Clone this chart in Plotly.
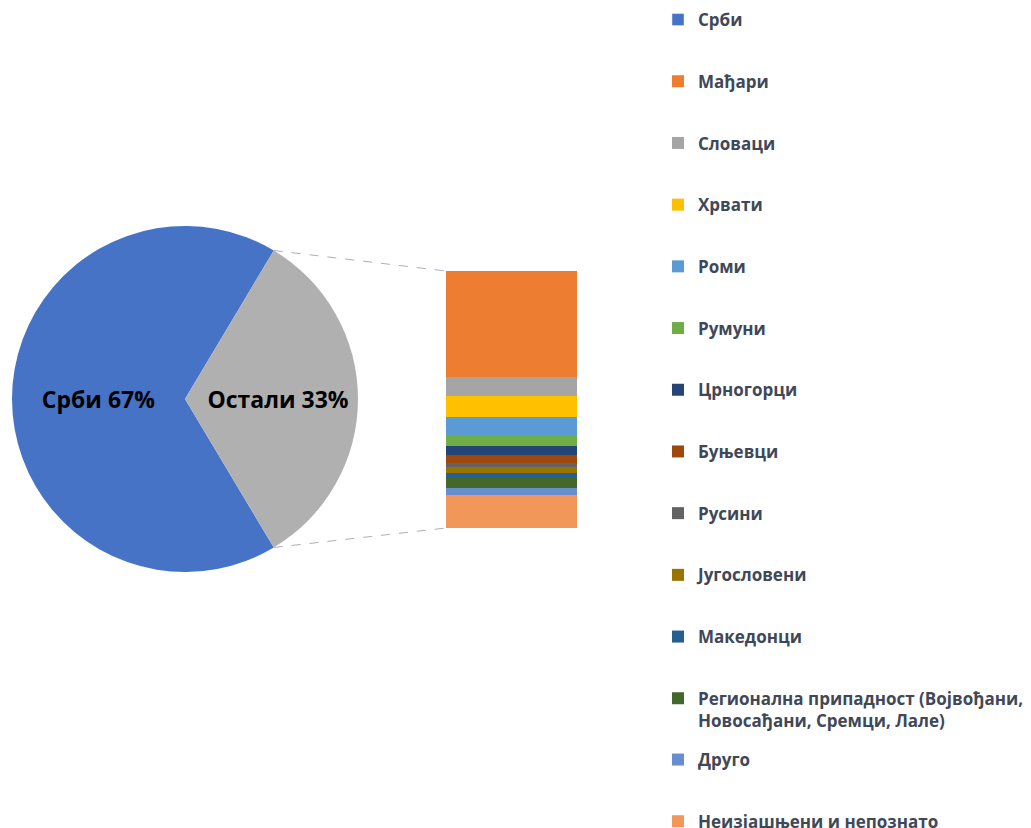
import numpy as np
import plotly.graph_objects as go

# ---------------- data ----------------
pie_labels = ["Срби", "Остали"]
groups = [
    "Мађари", "Словаци", "Хрвати", "Роми", "Румуни", "Црногорци", "Буњевци",
    "Русини", "Југословени", "Македонци",
    "Регионална припадност (Војвођани,<br>Новосађани, Сремци, Лале)",
    "Друго", "Неизјашњени и непознато",
]
group_values = [13.5, 2.45, 2.7, 2.3, 1.4, 1.15, 1.0, 0.5, 0.8, 0.5, 1.4, 0.9, 4.25]
group_colors = [
    "#ED7D31", "#A5A5A5", "#FFC000", "#5B9BD5", "#70AD47", "#264478", "#9E480E",
    "#636363", "#997300", "#255E91", "#43682B", "#698ED0", "#F1975A",
]
serbs_color = "#4673C6"
others_color = "#B0B0B0"

others_total = float(sum(group_values))
serbs_total = 100.0 - others_total
pie_values = [serbs_total, others_total]

# ---------------- layout geometry ----------------
W, H = 1031, 828
OX, OY = 8, 8                                     # page offset of the figure
pie_px = dict(x0=12, x1=358, y0=226, y1=572)      # pixel box of pie (top-down y)
bar_px = dict(x0=446, x1=577, y0=271, y1=528)     # pixel box of stacked bar

def px2paper_x(x):
    return (x - OX) / W

def px2paper_y(y):
    return 1 - (y - OY) / H

fig = go.Figure()

# pie (Остали centred at 3 o'clock)
others_frac = others_total / 100.0
rotation = 90 + others_frac * 360 / 2
fig.add_trace(go.Pie(
    labels=pie_labels,
    values=pie_values,
    sort=False,
    direction="clockwise",
    rotation=rotation,
    marker=dict(colors=[serbs_color, others_color]),
    texttemplate="%{label} %{percent:.0%}",
    textposition="inside",
    insidetextorientation="horizontal",
    textfont=dict(family="Open Sans", size=23, color="#000000", weight="bold"),
    domain=dict(x=[px2paper_x(pie_px["x0"]), px2paper_x(pie_px["x1"])],
                y=[px2paper_y(pie_px["y1"]), px2paper_y(pie_px["y0"])]),
    showlegend=False,
    hoverinfo="label+percent",
))

# legend-only entry for Срби
fig.add_trace(go.Bar(
    x=[None], y=[None], name="Срби", marker_color=serbs_color,
    legendgroup="g0", legendrank=1, showlegend=True, legend="legend",
))

# stacked bar (first trace at bottom -> add in reverse)
n_first = len(groups) - 2
for i in reversed(range(len(groups))):
    fig.add_trace(go.Bar(
        x=["Остали"], y=[group_values[i]], name=groups[i],
        marker=dict(color=group_colors[i], line=dict(width=0)),
        width=1.0, legendgroup=f"g{i+1}", legendrank=i + 2,
        legend="legend" if i < n_first else "legend2",
        hovertemplate=groups[i] + ": %{y}%<extra></extra>",
    ))

# connector lines, derived from pie and bar geometry
cx = (pie_px["x0"] + pie_px["x1"]) / 2
cy = (pie_px["y0"] + pie_px["y1"]) / 2
r = min(pie_px["x1"] - pie_px["x0"], pie_px["y1"] - pie_px["y0"]) / 2
half = others_frac * np.pi
p_up = (cx + r * np.cos(half), cy - r * np.sin(half))
p_dn = (cx + r * np.cos(half), cy + r * np.sin(half))
for p, by in [(p_up, bar_px["y0"]), (p_dn, bar_px["y1"])]:
    fig.add_shape(type="line", xref="paper", yref="paper",
                  x0=px2paper_x(p[0]), y0=px2paper_y(p[1]),
                  x1=px2paper_x(bar_px["x0"]), y1=px2paper_y(by),
                  line=dict(color="#A9B0BA", width=1, dash="dash"))

legend_font = dict(family="Open Sans", size=17, color="#404858", weight="bold")
common_legend = dict(
    xref="container", xanchor="left", yanchor="top",
    traceorder="grouped", tracegroupgap=36.6, font=legend_font,
    bgcolor="rgba(0,0,0,0)", maxheight=3000, valign="top",
)

fig.update_layout(
    width=W, height=H,
    margin=dict(l=0, r=0, t=0, b=0, autoexpand=False),
    paper_bgcolor="white", plot_bgcolor="white",
    barmode="stack", bargap=0,
    xaxis=dict(domain=[px2paper_x(bar_px["x0"]), px2paper_x(bar_px["x1"])],
               type="category", range=[-0.5, 0.5], visible=False, fixedrange=True),
    yaxis=dict(domain=[px2paper_y(bar_px["y1"]), px2paper_y(bar_px["y0"])],
               range=[0, others_total], visible=False, fixedrange=True),
    legend=dict(x=650 / W, y=1 + 6 / H, yref="paper", **common_legend),
    legend2=dict(x=650 / W, y=1 - 734 / H, yref="container", **common_legend),
    showlegend=True,
)

fig.write_html("out.html")
